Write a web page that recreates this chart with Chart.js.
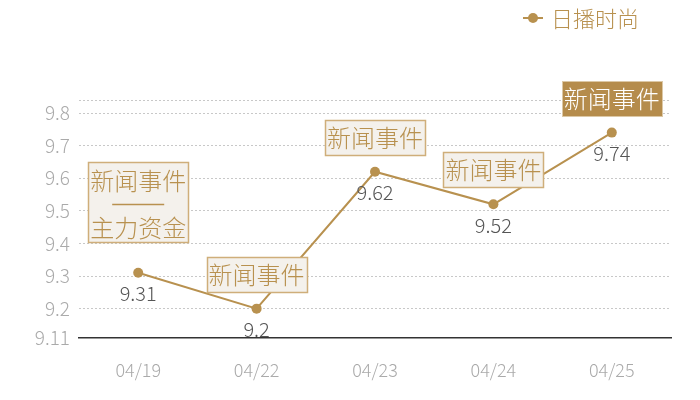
<!DOCTYPE html>
<html><head><meta charset="utf-8">
<script src="https://cdn.jsdelivr.net/npm/chart.js@4"></script>
<style>html,body{margin:0;padding:0;background:#fff}#w{width:700px;height:400px}</style>
</head><body><div id="w"><canvas id="c"></canvas></div>
<script>
const categories = ['04/19','04/22','04/23','04/24','04/25'];
const values = [9.31, 9.2, 9.62, 9.52, 9.74];
const seriesName = '日播时尚';
const yTicks = [9.11, 9.2, 9.3, 9.4, 9.5, 9.6, 9.7, 9.8, 9.84];
const yMin = 9.11, yMax = 9.84;
const annotations = [
  ['新闻事件','——','主力资金'],
  ['新闻事件'],
  ['新闻事件'],
  ['新闻事件'],
  ['新闻事件']
];
const highlighted = [false,false,false,false,true];

const GOLD = '#b8914f';
const FONT = '"Noto Sans CJK SC","Noto Sans",sans-serif';

const overlay = {
  id:'overlay',
  afterDatasetsDraw(chart){
    const ctx = chart.ctx;
    const meta = chart.getDatasetMeta(0);
    ctx.save();
    // data labels
    ctx.font = '300 20px ' + FONT;
    ctx.fillStyle = '#555';
    ctx.textAlign = 'center';
    ctx.textBaseline = 'middle';
    meta.data.forEach((p,i)=>{
      ctx.fillText(String(values[i]), p.x, p.y + 21);
    });
    // annotations
    meta.data.forEach((p,i)=>{
      const lines = annotations[i];
      const w = 100;
      let h, bottom;
      if(lines.length>1){ h = 80; bottom = p.y - 31; } else { h = 35; bottom = p.y - 17; }
      const left = Math.round(p.x - w/2) + 0.5, top = Math.round(bottom - h) + 0.5;
      if(highlighted[i]){
        ctx.fillStyle = '#b58c4c';
        ctx.fillRect(left, top, w, h);
        ctx.strokeStyle = '#dcc8a6';
        ctx.lineWidth = 1;
        ctx.strokeRect(left, top, w, h);
      } else {
        ctx.fillStyle = '#f4f1ec';
        ctx.fillRect(left, top, w, h);
        ctx.strokeStyle = '#cfae7a';
        ctx.lineWidth = 1.5;
        ctx.strokeRect(left, top, w, h);
      }
      ctx.fillStyle = highlighted[i] ? '#ffffff' : GOLD;
      ctx.font = '300 24px ' + FONT;
      ctx.textAlign = 'center';
      ctx.textBaseline = 'middle';
      if(lines.length>1){
        ctx.fillText(lines[0], p.x, top + 18);
        ctx.strokeStyle = GOLD; ctx.lineWidth = 1.5;
        ctx.beginPath(); ctx.moveTo(p.x-26, top+42); ctx.lineTo(p.x+26, top+42); ctx.stroke();
        ctx.fillText(lines[2], p.x, top + 65);
      } else {
        ctx.fillText(lines[0], p.x, top + h/2);
      }
    });
    // legend
    ctx.strokeStyle = GOLD; ctx.lineWidth = 2;
    ctx.beginPath(); ctx.moveTo(523,18); ctx.lineTo(543,18); ctx.stroke();
    ctx.fillStyle = GOLD;
    ctx.beginPath(); ctx.arc(533,18,5,0,Math.PI*2); ctx.fill();
    ctx.font = '300 22px ' + FONT;
    ctx.textAlign = 'left';
    ctx.fillText(seriesName, 551, 19);
    ctx.restore();
  }
};

new Chart(document.getElementById('c'), {
  type:'line',
  data:{ labels: categories, datasets:[{
    label: seriesName, data: values,
    borderColor: GOLD, backgroundColor: GOLD, borderWidth: 2,
    pointRadius: 5, pointHoverRadius: 5, pointBackgroundColor: GOLD, pointBorderWidth: 0,
    tension: 0
  }]},
  options:{
    responsive:true, maintainAspectRatio:false, animation:false,
    layout:{ padding:{ top:100, right:29, left:0, bottom:0 } },
    plugins:{ legend:{display:false}, tooltip:{enabled:false} },
    scales:{
      x:{
        offset:true,
        grid:{ display:false, drawTicks:false },
        border:{ display:true, color:'#333', width:1.5 },
        ticks:{ color:'#aaa', font:{ size:18, family:FONT, weight:'300' }, padding:21 },
        afterFit(s){ s.height = 62; }
      },
      y:{
        min:yMin, max:yMax,
        afterBuildTicks(s){ s.ticks = yTicks.map(v=>({value:v})); },
        grid:{ drawTicks:false, color:(c)=> (c.tick && c.tick.value===yMin) ? 'rgba(0,0,0,0)' : '#c8c8c8', lineWidth:1 },
        border:{ display:false, dash:[2,2] },
        ticks:{ color:'#aaa', font:{ size:19, family:FONT, weight:'300' }, padding:9,
          callback:(v)=> v===yMax ? '' : String(v) },
        afterFit(s){ s.width = 79; }
      }
    }
  },
  plugins:[overlay]
});
</script>
</body></html>
